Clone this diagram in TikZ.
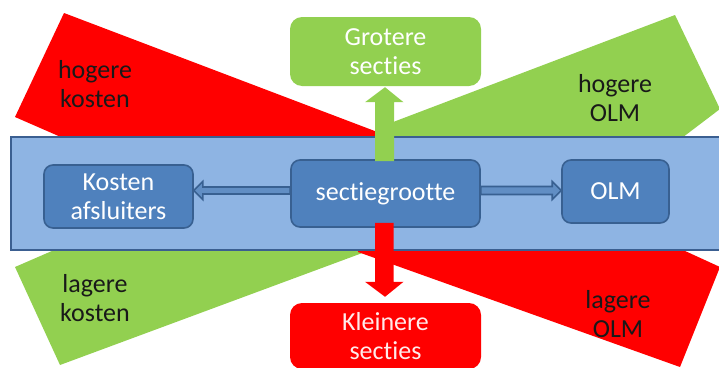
\documentclass[tikz,border=0pt]{standalone}
\usepackage{fontspec}
\setmainfont{Carlito}[Ligatures={NoCommon}]
\usetikzlibrary{calc}
\definecolor{cgreen}{RGB}{146,208,80}
\definecolor{cred}{RGB}{255,0,0}
\definecolor{bandfill}{RGB}{142,180,227}
\definecolor{banddraw}{RGB}{59,95,145}
\definecolor{boxfill}{RGB}{79,129,189}
\definecolor{boxdraw}{RGB}{56,96,145}
\tikzset{
  txt/.style={font=\fontsize{26}{29}\selectfont, align=center, inner sep=0pt},
  bluebox/.style={draw=boxdraw, line width=1.6pt, fill=boxfill, rounded corners=9pt,
    text=white, txt, inner sep=0pt},
  greenbox/.style={fill=cgreen, rounded corners=12pt, text=white, txt},
  redbox/.style={fill=cred, rounded corners=12pt, text=white!92!red, txt},
  harrow/.style={draw=boxdraw, line width=1.6pt, fill=boxfill!90!white},
  wedgeg/.style={fill=cgreen},
  wedger/.style={fill=cred},
}
\begin{document}
\begin{tikzpicture}[x=1pt,y=-1pt]
\useasboundingbox (0,0) rectangle (719,367);
\clip (0,0) rectangle (719,367);
% wedges
\path[wedger] (64,13) -- (15,117) -- (70,141) -- (380,141) -- (380,133) -- cycle;
\path[wedgeg] (675,15) -- (720,109) -- (670,147) -- (380,147) -- (380,127) -- cycle;
\path[wedgeg] (15,267) -- (60,365) -- (365,252) -- (365,244) -- (68,244) -- cycle;
\path[wedger] (358,245) -- (358,252) -- (680,367) -- (720,267) -- (672,245) -- cycle;
% band
\draw[draw=banddraw, line width=1.4pt, fill=bandfill] (11,137) rectangle (740,250);
% labels of wedges
\node[txt, text=black!90] (hk) at (95,84) {hogere\\kosten};
\node[txt, text=black!90] (ho) at (615,98) {hogere\\OLM};
\node[txt, text=black!90] (lk) at (95,298) {lagere\\kosten};
\node[txt, text=black!90] (lo) at (618,314) {lagere\\OLM};
% boxes
\node[bluebox, minimum width=149pt, minimum height=63pt] (kost) at (118.5,196.5) {Kosten\\afsluiters};
\node[bluebox, minimum width=189pt, minimum height=67pt] (sg) at (385.5,193.5) {sectiegrootte};
\node[bluebox, minimum width=107pt, minimum height=63pt] (olm) at (615.5,191.5) {OLM};
\node[greenbox, minimum width=191pt, minimum height=69pt] (grot) at (385.5,51.5) {Grotere\\secties};
\node[redbox, minimum width=191pt, minimum height=66pt] (klein) at (385.5,336) {Kleinere\\secties};
% horizontal block arrows
\draw[harrow] ($(sg.west)+(0,-6.5)$) -- ($(kost.east)+(9,-9.5)$) -- ($(kost.east)+(9,-15)$)
  -- ($(kost.east)+(0,-6)$) -- ($(kost.east)+(9,3)$) -- ($(kost.east)+(9,-2.5)$)
  -- ($(sg.west)+(0,0.5)$) -- cycle;
\draw[harrow] ($(sg.east)+(0,-7)$) -- ($(olm.west)+(-9,-5)$) -- ($(olm.west)+(-9,-10)$)
  -- ($(olm.west)+(0,-1)$) -- ($(olm.west)+(-9,8)$) -- ($(olm.west)+(-9,3)$)
  -- ($(sg.east)+(0,1)$) -- cycle;
% vertical arrows
\fill[cgreen] ($(sg.north)+(-10.5,2)$) -- ($(grot.south)+(-10.5,16)$) -- ($(grot.south)+(-20.5,16)$)
  -- ($(grot.south)+(-0.5,1)$) -- ($(grot.south)+(18,16)$) -- ($(grot.south)+(8.5,16)$)
  -- ($(sg.north)+(8.5,2)$) -- cycle;
\fill[cred] ($(sg.south)+(-10.5,-5)$) -- ($(klein.north)+(-10.5,-21)$) -- ($(klein.north)+(-20.5,-21)$)
  -- ($(klein.north)+(-0.5,-6)$) -- ($(klein.north)+(18,-21)$) -- ($(klein.north)+(8,-21)$)
  -- ($(sg.south)+(8,-5)$) -- cycle;
\end{tikzpicture}
\end{document}
